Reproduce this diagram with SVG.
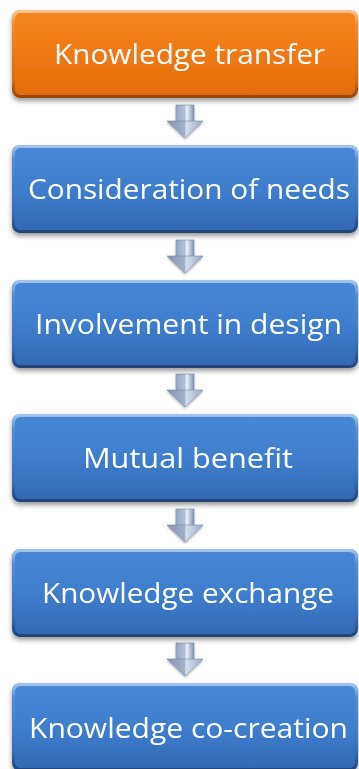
<svg xmlns="http://www.w3.org/2000/svg" width="359" height="769" viewBox="0 0 359 769">
  <defs>
    <linearGradient id="gOrange" x1="0" y1="0" x2="0" y2="1">
      <stop offset="0" stop-color="#F48620"/>
      <stop offset="0.5" stop-color="#F07914"/>
      <stop offset="1" stop-color="#E26C0C"/>
    </linearGradient>
    <linearGradient id="gBlue" x1="0" y1="0" x2="0" y2="1">
      <stop offset="0" stop-color="#4787D6"/>
      <stop offset="0.5" stop-color="#3F7ECD"/>
      <stop offset="1" stop-color="#3368B3"/>
    </linearGradient>
    <linearGradient id="gBevel" x1="0" y1="0" x2="0" y2="1">
      <stop offset="0" stop-color="#FFFFFF" stop-opacity="0.5"/>
      <stop offset="0.15" stop-color="#FFFFFF" stop-opacity="0.08"/>
      <stop offset="0.8" stop-color="#000000" stop-opacity="0.05"/>
      <stop offset="1" stop-color="#000000" stop-opacity="0.35"/>
    </linearGradient>
    <linearGradient id="gShaft" x1="0" y1="0" x2="1" y2="0">
      <stop offset="0" stop-color="#97A7C5"/>
      <stop offset="0.5" stop-color="#B3C1D9"/>
      <stop offset="0.6" stop-color="#F4F7FC"/>
      <stop offset="0.75" stop-color="#BFCBE0"/>
      <stop offset="1" stop-color="#7F92B5"/>
    </linearGradient>
    <linearGradient id="gHead" x1="0" y1="0" x2="1" y2="0">
      <stop offset="0" stop-color="#8694B2"/>
      <stop offset="0.5" stop-color="#A3B1CA"/>
      <stop offset="0.52" stop-color="#D6E0EF"/>
      <stop offset="1" stop-color="#98A9C8"/>
    </linearGradient>
    <filter id="shadow" x="-5%" y="-10%" width="110%" height="130%">
      <feDropShadow dx="0" dy="3" stdDeviation="2.5" flood-color="#000000" flood-opacity="0.4"/>
    </filter>
    <filter id="arrowShadow" x="-20%" y="-20%" width="140%" height="150%">
      <feDropShadow dx="0" dy="1.5" stdDeviation="1.2" flood-color="#000000" flood-opacity="0.3"/>
    </filter>
    <!-- block arrow pointing down, origin at its top centre -->
    <g id="downArrow" filter="url(#arrowShadow)">
      <rect x="-9" y="0" width="18" height="17" fill="url(#gShaft)" stroke="#7B8CAC" stroke-width="0.6"/>
      <path d="M -18 16 L 18 16 L 0 33 Z" fill="url(#gHead)" stroke="#7688A8" stroke-width="0.6" stroke-linejoin="round"/>
    </g>
  </defs>
  <style>
    .box { filter: url(#shadow); }
    .orange { fill: url(#gOrange); }
    .blue { fill: url(#gBlue); }
    .bevel { fill: none; stroke: url(#gBevel); stroke-width: 3; }
    .label { font-family: "Open Sans", "Noto Sans", "Liberation Sans", sans-serif; font-size: 28px; fill: #FFFFFF; text-anchor: middle; }
  </style>

  <g id="connectors">
    <use href="#downArrow" x="185" y="105"/>
    <use href="#downArrow" x="185" y="240"/>
    <use href="#downArrow" x="185" y="374"/>
    <use href="#downArrow" x="185" y="509"/>
    <use href="#downArrow" x="185" y="643"/>
  </g>

  <g id="node-knowledge-transfer" class="box">
    <rect class="orange" x="12" y="10" width="346" height="88" rx="8"/>
    <rect class="bevel" x="13.5" y="11.5" width="343" height="85" rx="7"/>
    <text class="label" x="189.5" y="64" textLength="271" lengthAdjust="spacingAndGlyphs">Knowledge transfer</text>
  </g>

  <g id="node-consideration-of-needs" class="box">
    <rect class="blue" x="12" y="145" width="346" height="88" rx="8"/>
    <rect class="bevel" x="13.5" y="146.5" width="343" height="85" rx="7"/>
    <text class="label" x="189" y="199" textLength="322" lengthAdjust="spacingAndGlyphs">Consideration of needs</text>
  </g>

  <g id="node-involvement-in-design" class="box">
    <rect class="blue" x="12" y="280" width="346" height="88" rx="8"/>
    <rect class="bevel" x="13.5" y="281.5" width="343" height="85" rx="7"/>
    <text class="label" x="188.5" y="333.5" textLength="307" lengthAdjust="spacingAndGlyphs">Involvement in design</text>
  </g>

  <g id="node-mutual-benefit" class="box">
    <rect class="blue" x="12" y="414" width="346" height="88" rx="8"/>
    <rect class="bevel" x="13.5" y="415.5" width="343" height="85" rx="7"/>
    <text class="label" x="188" y="468" textLength="210" lengthAdjust="spacingAndGlyphs">Mutual benefit</text>
  </g>

  <g id="node-knowledge-exchange" class="box">
    <rect class="blue" x="12" y="549" width="346" height="88" rx="8"/>
    <rect class="bevel" x="13.5" y="550.5" width="343" height="85" rx="7"/>
    <text class="label" x="188" y="603" textLength="292" lengthAdjust="spacingAndGlyphs">Knowledge exchange</text>
  </g>

  <g id="node-knowledge-co-creation" class="box">
    <rect class="blue" x="12" y="683" width="346" height="88" rx="8"/>
    <rect class="bevel" x="13.5" y="684.5" width="343" height="85" rx="7"/>
    <text class="label" x="188.5" y="738" textLength="319" lengthAdjust="spacingAndGlyphs">Knowledge co-creation</text>
  </g>
</svg>
